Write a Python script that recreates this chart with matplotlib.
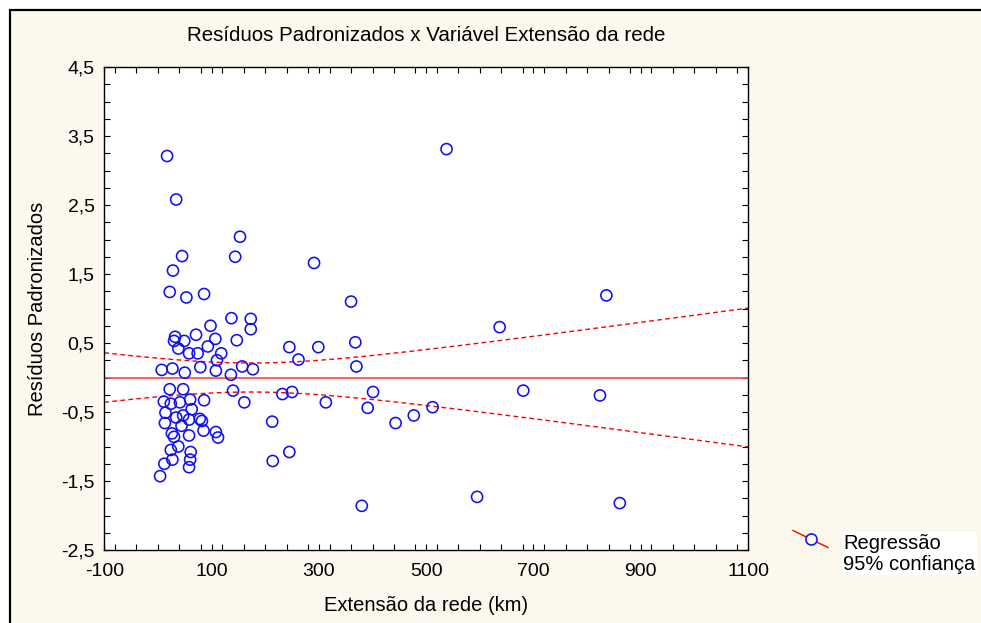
import numpy as np
import matplotlib
matplotlib.use('Agg')
import matplotlib.pyplot as plt
from matplotlib.patches import Rectangle
from matplotlib.lines import Line2D
from matplotlib.ticker import MultipleLocator, FuncFormatter

# Extensao da rede (km) e residuos padronizados.
extensao = [17, 34, 153, 144, 45, 28, 22, 53, 86, 137, 173, 98, 173, 71, 32, 30, 49,
            107, 147, 38, 93, 58, 74, 118, 110, 7, 27, 50, 79, 108, 136, 157, 177,
            22, 47, 140, 11, 24, 41, 60, 86, 161, 14, 63, 34, 47, 58, 13, 78, 82,
            44, 85, 108, 112, 26, 30, 58, 38, 24, 61, 27, 12, 60, 58, 4, 213, 214,
            291, 360, 245, 299, 368, 262, 370, 232, 250, 313, 401, 391, 443, 477,
            512, 245, 380, 538, 836, 637, 681, 824, 595, 861]
residuos = [3.21, 2.58, 2.04, 1.75, 1.76, 1.55, 1.24, 1.16, 1.21, 0.86, 0.85, 0.75,
            0.70, 0.62, 0.59, 0.53, 0.53, 0.56, 0.54, 0.42, 0.45, 0.35, 0.35, 0.35,
            0.25, 0.11, 0.13, 0.07, 0.15, 0.10, 0.04, 0.16, 0.12,
            -0.17, -0.17, -0.19, -0.35, -0.38, -0.36, -0.32, -0.33, -0.36, -0.51,
            -0.46, -0.58, -0.55, -0.61, -0.66, -0.60, -0.63, -0.70, -0.77, -0.79,
            -0.87, -0.81, -0.86, -0.84, -1.00, -1.05, -1.08, -1.19, -1.25, -1.19,
            -1.30, -1.43, -0.64, -1.21,
            1.66, 1.10, 0.44, 0.44, 0.51, 0.26, 0.16, -0.24, -0.21, -0.36, -0.21,
            -0.44, -0.66, -0.55, -0.43, -1.08, -1.86, 3.31, 1.19, 0.73, -0.19,
            -0.26, -1.73, -1.82]

x_ticks = [-100, 100, 300, 500, 700, 900, 1100]
y_ticks = [-2.5, -1.5, -0.5, 0.5, 1.5, 2.5, 3.5, 4.5]

plt.rcParams['font.family'] = ['Liberation Sans', 'DejaVu Sans']
plt.rcParams['axes.unicode_minus'] = False

fig = plt.figure(figsize=(9.81, 6.23), dpi=100, facecolor='white')

# Moldura creme com borda preta.
fundo = Rectangle((10 / 981, -0.1), 1.2, 1.1 - 10 / 623, transform=fig.transFigure,
                  facecolor='#fdf8ee', edgecolor='black', linewidth=1.6, zorder=-1)
fig.add_artist(fundo)

ax = fig.add_axes([104.3 / 981, 1 - 550 / 623, (748 - 104.3) / 981, (550 - 67) / 623])
ax.set_facecolor('white')

x = np.array(extensao, dtype=float)
y = np.array(residuos, dtype=float)
n = len(x)

# Residuos de um modelo que ja contem x: a reta ajustada e nula.
# Banda de confianca de 95% em torno dela.
s = np.sqrt(np.sum(y ** 2) / (n - 2))
sxx = np.sum((x - x.mean()) ** 2)
t = 1.987
xs = np.linspace(-100, 1100, 300)
ys = np.zeros_like(xs)
meia = t * s * np.sqrt(1 / n + (xs - x.mean()) ** 2 / sxx)

ax.plot(xs, ys, color='#f04848', linewidth=1.2, zorder=2)
ax.plot(xs, ys + meia, color='red', linewidth=1.0, dashes=(3.4, 2.4), zorder=2)
ax.plot(xs, ys - meia, color='red', linewidth=1.0, dashes=(3.4, 2.4), zorder=2)
ax.scatter(x, y, s=64, facecolors='none', edgecolors='#1010f0', linewidths=1.15, zorder=3)

ax.set_xlim(-100, 1100)
ax.set_ylim(-2.5, 4.5)
ax.set_xticks(x_ticks)
ax.set_yticks(y_ticks)
ax.xaxis.set_minor_locator(MultipleLocator(40))
ax.yaxis.set_minor_locator(MultipleLocator(0.25))
ax.yaxis.set_major_formatter(FuncFormatter(lambda v, p: ('%.1f' % v).replace('.', ',')))
ax.tick_params(which='both', direction='in', top=True, right=True, length=4,
               width=0.8, labelsize=14)
ax.tick_params(axis='x', pad=9)
ax.tick_params(axis='y', pad=7)
for sp in ax.spines.values():
    sp.set_linewidth(1.0)

ax.set_title('Resíduos Padronizados x Variável Extensão da rede', fontsize=14.8, pad=19)
ax.set_xlabel('Extensão da rede (km)', fontsize=14.5, labelpad=12)
ax.set_ylabel('Resíduos Padronizados', fontsize=14.5, labelpad=10)

# Legenda desenhada a mao (linha inclinada com circulo).
fig.add_artist(Line2D([793 / 981, 828 / 981], [1 - 530.5 / 623, 1 - 547.5 / 623],
                      color='red', linewidth=1.0))
fig.add_artist(Line2D([810.5 / 981], [1 - 539 / 623], marker='o', markersize=8,
                      markerfacecolor='white', markeredgecolor='#1010f0',
                      markeredgewidth=1.15, linestyle='none'))
fig.text(843 / 981, 1 - 570 / 623, 'Regressão\n95% confiança', fontsize=14.5,
         va='baseline', ha='left', linespacing=1.15,
         bbox=dict(facecolor='white', edgecolor='none', pad=1))

fig.savefig('out.png', dpi=100, facecolor=fig.get_facecolor())
